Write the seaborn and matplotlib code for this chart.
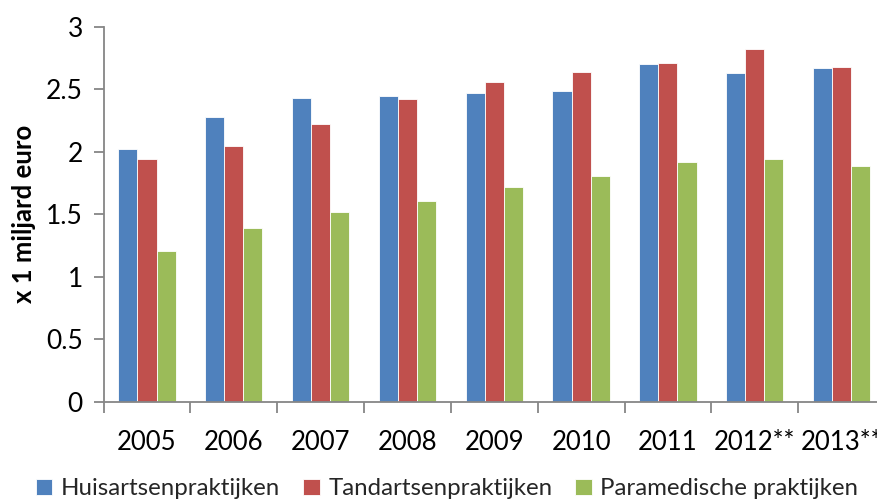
import numpy as np
import pandas as pd
import matplotlib
matplotlib.use("Agg")
import matplotlib.pyplot as plt
import seaborn as sns
from matplotlib.ticker import FixedLocator

years = ["2005", "2006", "2007", "2008", "2009", "2010", "2011", "2012**", "2013**"]
huisartsen = [2.02, 2.28, 2.43, 2.45, 2.47, 2.49, 2.70, 2.63, 2.67]
tandartsen = [1.94, 2.05, 2.22, 2.42, 2.56, 2.64, 2.71, 2.82, 2.68]
paramedisch = [1.21, 1.39, 1.52, 1.61, 1.72, 1.81, 1.92, 1.94, 1.89]
series_names = ["Huisartsenpraktijken", "Tandartsenpraktijken", "Paramedische praktijken"]
colors = ["#4F81BD", "#C0504D", "#9BBB59"]
y_ticks = [0, 0.5, 1, 1.5, 2, 2.5, 3]
y_tick_labels = ["0", "0.5", "1", "1.5", "2", "2.5", "3"]
y_label = "x 1 miljard euro"

df = pd.DataFrame({
    "jaar": years * 3,
    "reeks": [series_names[0]] * 9 + [series_names[1]] * 9 + [series_names[2]] * 9,
    "waarde": huisartsen + tandartsen + paramedisch,
})

sns.set_theme(style="white")
plt.rcParams["font.family"] = ["Lato", "DejaVu Sans"]

fig = plt.figure(figsize=(8.78, 5.03), dpi=100)
ax = fig.add_axes([103.6 / 878, 1 - 401.8 / 503, (885 - 103.6) / 878, (401.8 - 26.8) / 503])

sns.barplot(data=df, x="jaar", y="waarde", hue="reeks", palette=colors,
            width=0.66, ax=ax, edgecolor="white", linewidth=0.6, saturation=1)

ax.set_xlim(-0.5, 8.5)
ax.set_ylim(0, 3)
ax.set_yticks(y_ticks)
ax.set_yticklabels(y_tick_labels)
ax.set_xlabel("")
ax.set_ylabel(y_label, fontsize=18.5, fontweight="bold", labelpad=7, color="black")

for s in ["top", "right"]:
    ax.spines[s].set_visible(False)
for s in ["left", "bottom"]:
    ax.spines[s].set_color("#868686")
    ax.spines[s].set_linewidth(1.3)

ax.xaxis.set_minor_locator(FixedLocator(np.arange(-0.5, 9.0, 1.0)))
ax.tick_params(axis="x", which="major", length=0, pad=20, labelsize=18.5, colors="black")
ax.tick_params(axis="x", which="minor", bottom=True, length=8, width=1.3, color="#868686")
ax.tick_params(axis="y", which="major", left=True, length=7, width=1.3, color="#868686",
               labelsize=19, labelcolor="black", pad=8)

leg = ax.legend(loc="lower center", bbox_to_anchor=(447 / 878, -0.012), bbox_transform=fig.transFigure,
                ncol=3, frameon=False, fontsize=17.3, handlelength=0.7, handleheight=0.7,
                handletextpad=0.35, columnspacing=0.95, borderaxespad=0)

fig.savefig("out.png", dpi=100)
